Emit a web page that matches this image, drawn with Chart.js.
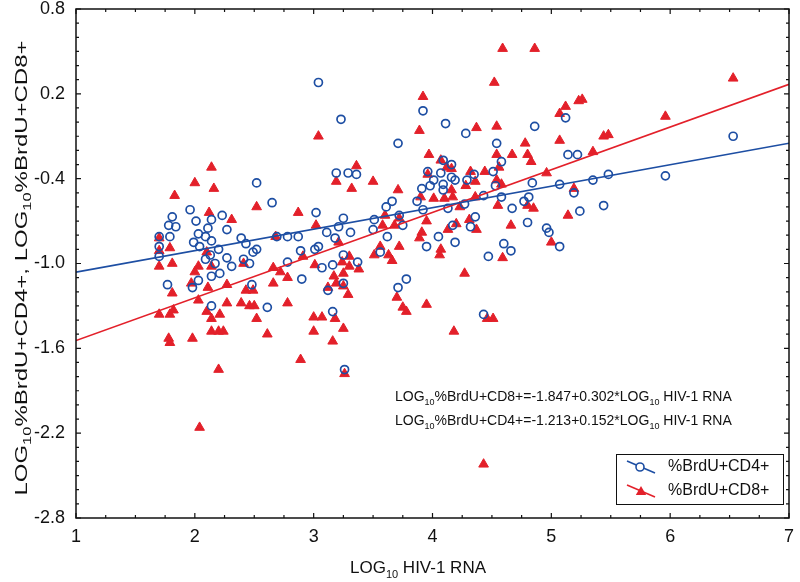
<!DOCTYPE html>
<html>
<head>
<meta charset="utf-8">
<title>BrdU vs HIV-1 RNA</title>
<script src="https://cdn.jsdelivr.net/npm/chart.js@4.4.0/dist/chart.umd.min.js"></script>
<style>
    html, body { margin: 0; padding: 0; background: #fff; }
    #wrap { width: 800px; height: 582px; }
</style>
</head>
<body>
<div id="wrap"><canvas id="chart" width="800" height="582"></canvas></div>
<script>
// Data (LOG10 HIV-1 RNA vs LOG10 %BrdU+)
const cd4X = [
    2.52, 2.65, 1.96, 1.81, 2.23, 2.01, 2.14, 1.78, 1.84, 2.11, 2.27, 2.03, 2.09, 1.70, 1.79, 2.39,
    2.69, 2.78, 2.87, 1.99, 2.14, 2.43, 2.04, 1.70, 2.52, 2.20, 2.49, 2.89, 1.70, 2.13, 2.09, 2.27,
    2.41, 2.17, 2.31, 2.46, 2.78, 2.14, 2.21, 2.90, 2.03, 1.98, 1.77, 2.48, 2.14, 2.61,
    3.04, 3.23, 3.92, 4.11, 4.28, 3.71, 4.54, 4.86, 3.19, 3.29, 3.36, 3.96, 4.09, 4.16, 4.07, 4.16,
    4.01, 4.19, 3.91, 3.98, 4.09, 4.09, 4.29, 4.35, 4.51, 4.53, 4.58, 4.43, 4.58, 4.77, 4.81, 4.84,
    3.02, 3.25, 3.21, 3.11, 3.18, 3.31, 3.51, 3.50, 3.62, 3.61, 3.66, 3.72, 3.75, 3.87, 3.92, 4.13,
    4.27, 4.36, 4.32, 4.17, 4.67, 4.80, 4.05, 3.95, 4.19, 4.60, 4.66, 4.47, 4.96, 4.98, 5.07,
    3.01, 3.04, 3.25, 3.16, 3.07, 3.37, 3.56, 3.25, 3.12, 3.78, 3.71, 3.16, 4.43, 3.26,
    5.12, 6.53, 5.14, 5.22, 5.07, 5.35, 5.48, 5.96, 5.19, 5.24, 5.44
];
const cd4Y = [
    -0.43, -0.57, -0.62, -0.67, -0.66, -0.70, -0.69, -0.73, -0.74, -0.75, -0.76, -0.79, -0.81, -0.81, -0.81, -0.82,
    -0.81, -0.81, -0.81, -0.85, -0.84, -0.86, -0.88, -0.88, -0.90, -0.90, -0.92, -0.91, -0.95, -0.94, -0.97, -0.96,
    -0.97, -1.00, -1.02, -1.00, -0.99, -1.09, -1.07, -1.11, -1.12, -1.17, -1.15, -1.15, -1.30, -1.31,
    0.28, 0.02, 0.08, -0.01, -0.08, -0.15, -0.15, -0.03, -0.36, -0.36, -0.37, -0.35, -0.27, -0.30, -0.36, -0.39,
    -0.41, -0.41, -0.47, -0.45, -0.44, -0.48, -0.41, -0.37, -0.35, -0.45, -0.28, -0.52, -0.53, -0.56, -0.53, -0.43,
    -0.64, -0.68, -0.74, -0.78, -0.82, -0.78, -0.69, -0.76, -0.81, -0.60, -0.56, -0.66, -0.73, -0.56, -0.62, -0.61,
    -0.58, -0.67, -0.74, -0.73, -0.61, -0.71, -0.81, -0.88, -0.85, -0.86, -0.91, -0.95, -0.75, -0.78, -0.88,
    -0.90, -0.88, -0.94, -1.01, -1.03, -0.99, -0.92, -1.14, -1.19, -1.11, -1.17, -1.34, -1.36, -1.75,
    0.03, -0.10, -0.23, -0.23, -0.44, -0.41, -0.37, -0.38, -0.50, -0.63, -0.59
];
const cd8X = [
    2.14, 2.00, 2.16, 1.83, 2.52, 2.87, 2.12, 2.31, 1.70, 1.70, 1.70, 1.70, 1.79, 1.81, 1.81, 1.79,
    1.82, 1.78, 1.79, 1.98, 2.03, 2.00, 1.97, 2.11, 2.27, 2.03, 2.27, 2.39, 2.46, 2.50, 2.10, 2.21,
    2.14, 2.52, 2.14, 2.20, 2.24, 2.61, 2.89, 2.20, 2.10, 2.41, 2.43, 2.49, 2.66, 2.72, 2.66, 2.78,
    2.78, 2.91, 2.68, 2.14, 2.04,
    4.59, 4.86, 4.52, 3.92, 3.04, 3.89, 4.37, 4.54, 4.78, 4.67, 4.80, 4.83, 4.54, 3.97, 4.07, 4.12,
    4.16, 4.56, 4.44, 4.32, 4.54, 4.58, 4.28, 4.36, 3.36, 3.19, 3.32, 3.50, 3.71, 3.96, 4.96, 4.16,
    4.17, 3.90, 4.01, 4.10, 4.36, 4.23, 4.55, 4.80, 4.85, 3.60, 3.72, 3.68, 3.58, 3.95, 4.31, 4.20,
    4.37, 4.66, 4.13, 3.91, 3.89, 3.72, 3.56, 3.63, 4.07, 4.06, 4.59, 3.02, 3.21, 3.51, 3.66, 4.27,
    3.01, 3.30, 3.30, 3.38, 3.24, 3.25, 3.17, 3.12, 3.19, 3.25, 3.29, 3.70, 3.75, 3.78, 3.95, 3.00,
    3.07, 3.18, 3.25, 3.00, 3.16, 3.26, 4.18, 4.46, 4.51, 4.43,
    6.53, 5.12, 5.07, 5.23, 5.26, 5.96, 5.07, 5.44, 5.48, 5.35, 5.19, 5.14, 5.00
];
const cd8Y = [
    -0.32, -0.43, -0.47, -0.52, -0.60, -0.64, -0.64, -0.69, -0.82, -0.91, -1.02, -1.36, -0.89, -1.00, -1.21, -1.36,
    -1.33, -1.53, -1.56, -1.53, -1.02, -1.06, -1.14, -1.17, -1.15, -1.26, -1.28, -1.28, -1.30, -1.30, -1.34, -1.36,
    -1.39, -1.39, -1.48, -1.48, -1.48, -1.50, -1.68, -1.75, -0.92, -1.00, -1.19, -1.19, -1.03, -1.06, -1.14, -1.10,
    -1.28, -0.95, -0.81, -1.02, -2.16,
    0.52, 0.52, 0.28, 0.18, -0.10, -0.06, -0.04, -0.03, -0.15, -0.23, -0.23, -0.28, -0.23, -0.23, -0.27, -0.32,
    -0.33, -0.32, -0.35, -0.35, -0.41, -0.44, -0.45, -0.42, -0.31, -0.42, -0.47, -0.42, -0.48, -0.37, -0.36, -0.48,
    -0.53, -0.53, -0.54, -0.54, -0.53, -0.60, -0.59, -0.59, -0.61, -0.66, -0.68, -0.73, -0.73, -0.70, -0.69, -0.72,
    -0.76, -0.73, -0.76, -0.78, -0.82, -0.88, -0.88, -0.94, -0.90, -0.94, -0.96, -0.73, -0.85, -0.94, -0.98, -1.07,
    -1.01, -0.95, -1.02, -1.04, -0.99, -1.07, -1.09, -1.17, -1.14, -1.16, -1.22, -1.24, -1.31, -1.34, -1.29, -1.38,
    -1.38, -1.39, -1.46, -1.48, -1.55, -1.78, -1.48, -1.39, -1.39, -2.42,
    0.31, 0.11, 0.06, 0.15, 0.16, 0.04, -0.13, -0.10, -0.09, -0.21, -0.47, -0.66, -0.85
];

// regression lines as printed on the figure
const cd8Fit = { a: -1.847, b: 0.302 };
const cd4Fit = { a: -1.213, b: 0.152 };
const fitX = [1, 7];

const xTicks = [1, 2, 3, 4, 5, 6, 7];
const yTicks = [-2.8, -2.2, -1.6, -1.0, -0.4, 0.2, 0.8];

const BLUE = '#1d4ea3';
const RED = '#e3202a';
const FONT = '"Liberation Sans", Arial, Helvetica, sans-serif';

function toPoints(xs, ys) {
    return xs.map((x, i) => ({ x: x, y: ys[i] }));
}

function fitPoints(fit) {
    return fitX.map(x => ({ x: x, y: fit.a + fit.b * x }));
}

// axis size is fixed and the label overhang must not shrink the plot
function fixScale(size, isX) {
    return s => {
        if (isX) s.height = size; else s.width = size;
        s.paddingTop = 0;
        s.paddingBottom = 0;
        s.paddingLeft = 0;
        s.paddingRight = 0;
    };
}

// text with "10" subscripts
function drawRich(ctx, parts, x, y, size, align) {
    const big = size + 'px ' + FONT;
    const small = Math.round(size * 0.66) + 'px ' + FONT;
    let w = 0;
    parts.forEach(p => {
        ctx.font = p.sub ? small : big;
        w += ctx.measureText(p.t).width;
    });
    let cx = align === 'center' ? x - w / 2 : x;
    parts.forEach(p => {
        ctx.font = p.sub ? small : big;
        ctx.fillText(p.t, cx, p.sub ? y + size * 0.28 : y);
        cx += ctx.measureText(p.t).width;
    });
    return w;
}

function triangle(ctx, x, y, r) {
    ctx.beginPath();
    for (let k = 0; k < 3; k++) {
        const a = k * 2 * Math.PI / 3;
        const px = x + Math.sin(a) * r, py = y - Math.cos(a) * r;
        if (k === 0) ctx.moveTo(px, py); else ctx.lineTo(px, py);
    }
    ctx.closePath();
    ctx.fill();
}

const decorations = {
    id: 'decorations',
    afterDraw(chart) {
        const ctx = chart.ctx;
        const xs = chart.scales.x, ys = chart.scales.y;
        const a = chart.chartArea;
        ctx.save();

        // frame
        ctx.strokeStyle = '#111';
        ctx.lineWidth = 1.5;
        ctx.strokeRect(a.left, a.top, a.right - a.left, a.bottom - a.top);

        // inward ticks on all four sides
        ctx.lineWidth = 1.2;
        ctx.beginPath();
        for (let i = 0; i <= 24; i++) {
            const px = xs.getPixelForValue(1 + i * 0.25);
            const len = i % 4 === 0 ? 5 : 3;
            ctx.moveTo(px, a.bottom); ctx.lineTo(px, a.bottom - len);
            ctx.moveTo(px, a.top); ctx.lineTo(px, a.top + len);
        }
        for (let i = 0; i <= 36; i++) {
            const py = ys.getPixelForValue(-2.8 + i * 0.1);
            const len = i % 6 === 0 ? 5 : 3;
            ctx.moveTo(a.left, py); ctx.lineTo(a.left + len, py);
            ctx.moveTo(a.right, py); ctx.lineTo(a.right - len, py);
        }
        ctx.stroke();

        ctx.fillStyle = '#111';
        ctx.textBaseline = 'alphabetic';

        // equations
        drawRich(ctx, [{ t: 'LOG' }, { t: '10', sub: true }, { t: '%BrdU+CD8+=-1.847+0.302*LOG' }, { t: '10', sub: true }, { t: ' HIV-1 RNA' }], 395, 401, 14, 'left');
        drawRich(ctx, [{ t: 'LOG' }, { t: '10', sub: true }, { t: '%BrdU+CD4+=-1.213+0.152*LOG' }, { t: '10', sub: true }, { t: ' HIV-1 RNA' }], 395, 425, 14, 'left');

        // x title
        drawRich(ctx, [{ t: 'LOG' }, { t: '10', sub: true }, { t: ' HIV-1 RNA' }], 418, 573, 17, 'center');

        // y title, stretched along its length like the scan
        ctx.save();
        ctx.translate(27, 268);
        ctx.rotate(-Math.PI / 2);
        const yParts = [{ t: 'LOG' }, { t: '10', sub: true }, { t: '%BrdU+CD4+, LOG' }, { t: '10', sub: true }, { t: '%BrdU+CD8+' }];
        ctx.globalAlpha = 0;
        const w = drawRich(ctx, yParts, 0, 0, 16, 'center');
        ctx.globalAlpha = 1;
        ctx.scale(455 / w, 1);
        drawRich(ctx, yParts, 0, 0, 16, 'center');
        ctx.restore();

        // legend box
        ctx.fillStyle = '#fff';
        ctx.fillRect(616, 454, 168, 50);
        ctx.strokeStyle = '#111';
        ctx.lineWidth = 1;
        ctx.strokeRect(616.5, 454.5, 167, 50);

        ctx.lineWidth = 1.6;
        ctx.strokeStyle = BLUE;
        ctx.beginPath(); ctx.moveTo(627, 461); ctx.lineTo(655, 473); ctx.stroke();
        ctx.fillStyle = '#fff';
        ctx.beginPath(); ctx.arc(640, 467, 4, 0, Math.PI * 2); ctx.fill(); ctx.stroke();

        ctx.strokeStyle = RED;
        ctx.beginPath(); ctx.moveTo(627, 485); ctx.lineTo(655, 497); ctx.stroke();
        ctx.fillStyle = RED;
        triangle(ctx, 641, 492, 6);

        ctx.fillStyle = '#111';
        ctx.font = '16px ' + FONT;
        ctx.textBaseline = 'middle';
        ctx.fillText('%BrdU+CD4+', 668, 467);
        ctx.fillText('%BrdU+CD8+', 668, 491);

        ctx.restore();
    }
};

new Chart(document.getElementById('chart'), {
    type: 'scatter',
    data: {
        datasets: [
            {
                type: 'line',
                label: 'CD4 fit',
                data: fitPoints(cd4Fit),
                borderColor: BLUE,
                borderWidth: 1.6,
                pointRadius: 0,
                order: 0
            },
            {
                type: 'line',
                label: 'CD8 fit',
                data: fitPoints(cd8Fit),
                borderColor: RED,
                borderWidth: 1.6,
                pointRadius: 0,
                order: 0
            },
            {
                label: '%BrdU+CD4+',
                data: toPoints(cd4X, cd4Y),
                pointStyle: 'circle',
                pointRadius: 4,
                borderWidth: 1.7,
                borderColor: BLUE,
                backgroundColor: 'rgba(255,255,255,0)',
                order: 1
            },
            {
                label: '%BrdU+CD8+',
                data: toPoints(cd8X, cd8Y),
                pointStyle: 'triangle',
                pointRadius: 5.6,
                borderWidth: 1,
                borderColor: RED,
                backgroundColor: RED,
                order: 2
            }
        ]
    },
    options: {
        responsive: false,
        animation: false,
        layout: { autoPadding: false, padding: { top: 9, right: 11, left: 0, bottom: 0 } },
        plugins: {
            legend: { display: false },
            tooltip: { enabled: false }
        },
        scales: {
            x: {
                type: 'linear',
                min: 1,
                max: 7,
                afterBuildTicks: s => { s.ticks = xTicks.map(v => ({ value: v })); },
                afterFit: fixScale(64, true),
                grid: { display: false, drawTicks: false },
                border: { display: false },
                ticks: {
                    color: '#111',
                    padding: 10,
                    font: { family: FONT, size: 18, lineHeight: 1 },
                    callback: v => String(v)
                }
            },
            y: {
                type: 'linear',
                min: -2.8,
                max: 0.8,
                afterBuildTicks: s => { s.ticks = yTicks.map(v => ({ value: v })); },
                afterFit: fixScale(76, false),
                grid: { display: false, drawTicks: false },
                border: { display: false },
                ticks: {
                    color: '#111',
                    padding: 11,
                    font: { family: FONT, size: 18, lineHeight: 1 },
                    callback: v => v.toFixed(1)
                }
            }
        }
    },
    plugins: [decorations]
});
</script>
</body>
</html>
